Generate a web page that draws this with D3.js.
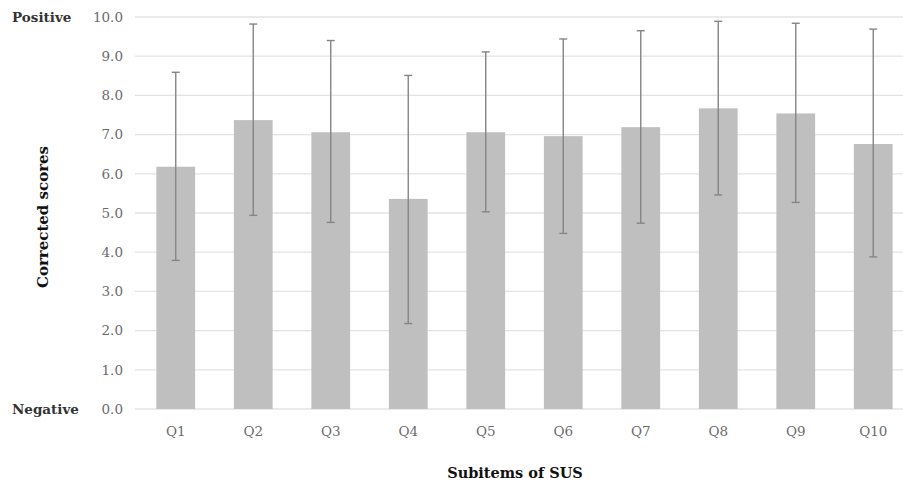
<!DOCTYPE html>
<html>
<head>
<meta charset="utf-8">
<script src="https://cdn.jsdelivr.net/npm/d3@7"></script>
<style>
  html, body { margin: 0; padding: 0; background: #fff; }
  svg { display: block; }
</style>
</head>
<body>
<svg id="chart" width="903" height="485"></svg>
<script>
const categories = ["Q1","Q2","Q3","Q4","Q5","Q6","Q7","Q8","Q9","Q10"];
const means = [6.18, 7.37, 7.06, 5.36, 7.06, 6.96, 7.19, 7.67, 7.54, 6.76];
const errHigh = [8.59, 9.82, 9.40, 8.51, 9.11, 9.44, 9.65, 9.89, 9.84, 9.69];
const errLow = [3.79, 4.94, 4.76, 2.18, 5.03, 4.48, 4.74, 5.46, 5.27, 3.88];
const yTicks = [0,1,2,3,4,5,6,7,8,9,10];

const svg = d3.select("#chart");
const font = "'DejaVu Serif', serif";

const x = d3.scaleBand().domain(categories).range([137, 912]).paddingInner(0.5).paddingOuter(0.25);
const y = d3.scaleLinear().domain([0, 10]).range([409, 17]);

// gridlines
svg.append("g").selectAll("line").data(yTicks).join("line")
  .attr("x1", 135).attr("x2", 912)
  .attr("y1", d => y(d)).attr("y2", d => y(d))
  .attr("stroke", "#e3e3e3").attr("stroke-width", 1.3);

// bars
svg.append("g").selectAll("rect").data(categories).join("rect")
  .attr("x", d => x(d))
  .attr("width", x.bandwidth())
  .attr("y", (d,i) => y(means[i]))
  .attr("height", (d,i) => y(0) - y(means[i]))
  .attr("fill", "#bfbfbf");

// error bars
const eg = svg.append("g").attr("stroke", "#858585").attr("stroke-width", 1.4);
categories.forEach((c, i) => {
  const cx = x(c) + x.bandwidth() / 2;
  eg.append("line").attr("x1", cx).attr("x2", cx).attr("y1", y(errHigh[i])).attr("y2", y(errLow[i]));
  eg.append("line").attr("x1", cx - 4).attr("x2", cx + 4).attr("y1", y(errHigh[i])).attr("y2", y(errHigh[i]));
  eg.append("line").attr("x1", cx - 4).attr("x2", cx + 4).attr("y1", y(errLow[i])).attr("y2", y(errLow[i]));
});

// y axis tick labels
svg.append("g").selectAll("text").data(yTicks).join("text")
  .attr("x", 123).attr("y", d => y(d))
  .attr("dy", "0.35em")
  .attr("text-anchor", "end")
  .attr("font-family", font).attr("font-size", 13.5)
  .attr("fill", "#6b6b6b")
  .text(d => d3.format(".1f")(d));

// x axis labels
svg.append("g").selectAll("text").data(categories).join("text")
  .attr("x", d => x(d) + x.bandwidth() / 2).attr("y", 431)
  .attr("dy", "0.35em")
  .attr("text-anchor", "middle")
  .attr("font-family", font).attr("font-size", 13.5)
  .attr("fill", "#6b6b6b")
  .text(d => d);

// Positive / Negative
svg.append("text").attr("x", 12).attr("y", y(10)).attr("dy", "0.35em")
  .attr("font-family", font).attr("font-size", 13.5).attr("font-weight", "bold")
  .attr("fill", "#333").text("Positive");
svg.append("text").attr("x", 12).attr("y", y(0)).attr("dy", "0.35em")
  .attr("font-family", font).attr("font-size", 13.5).attr("font-weight", "bold")
  .attr("fill", "#333").text("Negative");

// axis titles
svg.append("text")
  .attr("transform", "translate(43,217) rotate(-90)")
  .attr("text-anchor", "middle").attr("dy", "0.35em")
  .attr("font-family", font).attr("font-size", 15).attr("font-weight", "bold")
  .attr("fill", "#111").text("Corrected scores");
svg.append("text")
  .attr("x", 515).attr("y", 473).attr("dy", "0.35em")
  .attr("text-anchor", "middle")
  .attr("font-family", font).attr("font-size", 14.5).attr("font-weight", "bold")
  .attr("fill", "#111").text("Subitems of SUS");
</script>
</body>
</html>
